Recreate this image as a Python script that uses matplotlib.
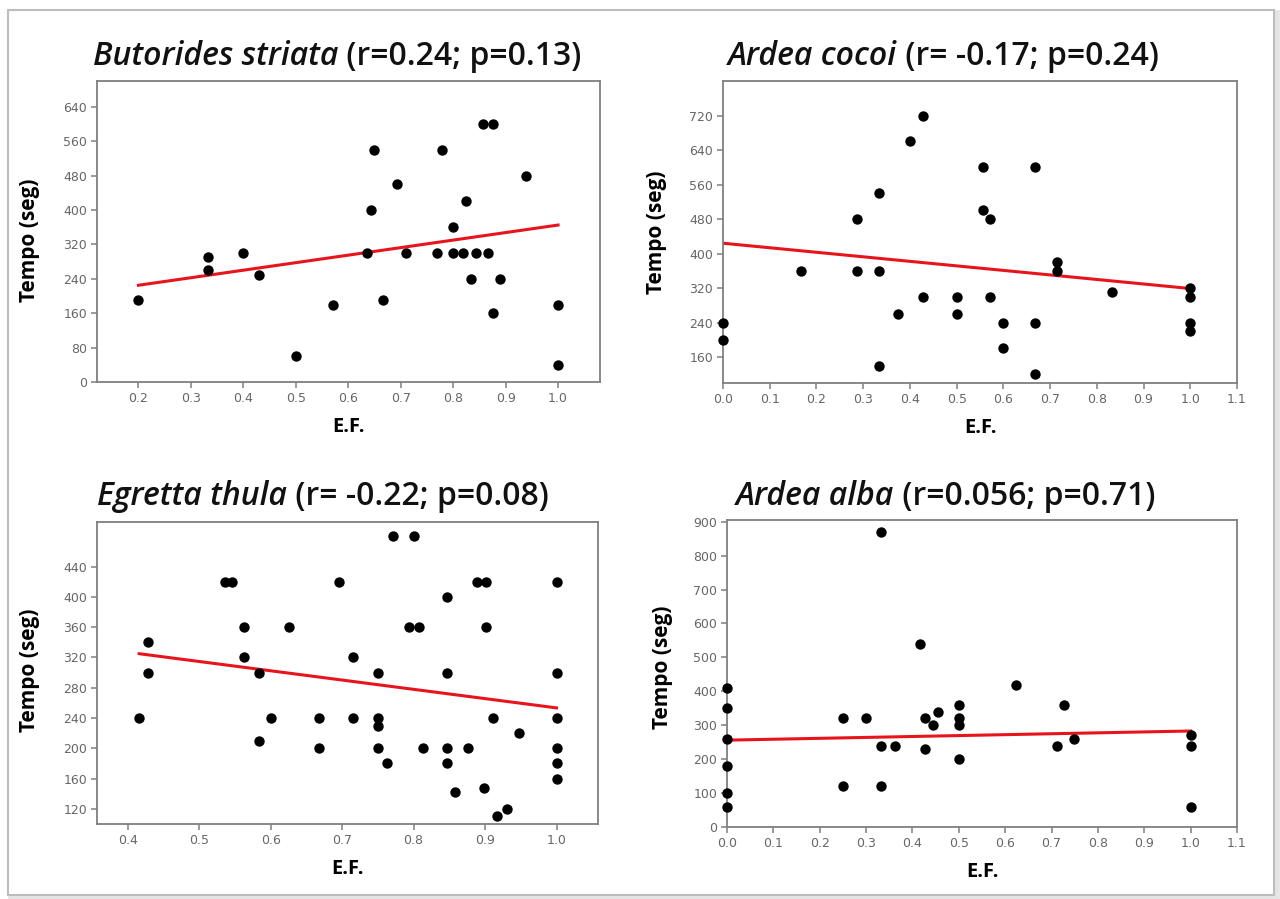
import matplotlib
matplotlib.use("Agg")
import matplotlib.pyplot as plt
from matplotlib.patches import Rectangle
import numpy as np

# ---- data ----
# Butorides striata
bs_x = [0.2, 0.333, 0.333, 0.4, 0.429, 0.5, 0.571, 0.636, 0.643, 0.65, 0.667,
        0.693, 0.71, 0.77, 0.778, 0.8, 0.8, 0.819, 0.825, 0.834, 0.843, 0.857,
        0.867, 0.876, 0.876, 0.89, 0.938, 1.0, 1.0]
bs_y = [190, 290, 260, 300, 250, 60, 180, 300, 400, 540, 190,
        460, 300, 300, 540, 360, 300, 300, 420, 240, 300, 600,
        300, 600, 160, 240, 480, 180, 40]
bs_fit = (190, 175)  # intercept, slope

# Ardea cocoi
ac_x = [0.0, 0.0, 0.167, 0.286, 0.286, 0.333, 0.333, 0.333, 0.375, 0.4, 0.429,
        0.429, 0.5, 0.5, 0.556, 0.556, 0.571, 0.571, 0.6, 0.6, 0.667, 0.667,
        0.667, 0.714, 0.714, 0.833, 1.0, 1.0, 1.0, 1.0]
ac_y = [240, 200, 360, 480, 360, 540, 360, 140, 260, 660, 720,
        300, 300, 260, 600, 500, 480, 300, 240, 180, 600, 240,
        120, 380, 360, 310, 320, 300, 240, 220]
ac_fit = (424, -105)

# Egretta thula
et_x = [0.416, 0.429, 0.429, 0.536, 0.546, 0.563, 0.563, 0.583, 0.583, 0.6,
        0.625, 0.667, 0.667, 0.695, 0.715, 0.715, 0.75, 0.75, 0.75, 0.75,
        0.763, 0.771, 0.794, 0.8, 0.807, 0.813, 0.847, 0.847, 0.847, 0.847,
        0.858, 0.876, 0.888, 0.901, 0.901, 0.898, 0.911, 0.917, 0.93, 0.948,
        1.0, 1.0, 1.0, 1.0, 1.0, 1.0]
et_y = [240, 340, 300, 420, 420, 360, 320, 300, 210, 240,
        360, 240, 200, 420, 320, 240, 300, 240, 230, 200,
        180, 480, 360, 480, 360, 200, 400, 300, 200, 180,
        142, 200, 420, 420, 360, 148, 240, 110, 120, 220,
        420, 300, 240, 200, 180, 160]
et_fit = (376, -122.6)

# Ardea alba
aa_x = [0.0, 0.0, 0.0, 0.0, 0.0, 0.0, 0.25, 0.25, 0.3, 0.333, 0.333, 0.333,
        0.363, 0.417, 0.428, 0.428, 0.445, 0.455, 0.5, 0.5, 0.5, 0.5, 0.624,
        0.712, 0.726, 0.749, 1.0, 1.0, 1.0]
aa_y = [410, 350, 260, 180, 100, 60, 320, 120, 320, 870, 240, 120,
        240, 540, 320, 230, 300, 340, 360, 320, 300, 200, 420,
        240, 360, 260, 270, 240, 60]
aa_fit = (256, 27)

species = ["Butorides striata", "Ardea cocoi", "Egretta thula", "Ardea alba"]
stats = ["(r=0.24; p=0.13)", "(r= -0.17; p=0.24)", "(r= -0.22; p=0.08)",
         "(r=0.056; p=0.71)"]
xs = [bs_x, ac_x, et_x, aa_x]
ys = [bs_y, ac_y, et_y, aa_y]
fits = [bs_fit, ac_fit, et_fit, aa_fit]
xticks = [np.arange(0.2, 1.01, 0.1), np.arange(0.0, 1.11, 0.1),
          np.arange(0.4, 1.01, 0.1), np.arange(0.0, 1.11, 0.1)]
yticks = [np.arange(0, 641, 80), np.arange(160, 721, 80),
          np.arange(120, 441, 40), np.arange(0, 901, 100)]
xlims = [(0.121, 1.08), (0.0, 1.1), (0.357, 1.058), (0.0, 1.1)]
ylims = [(0, 700), (100, 800), (100, 499), (0, 905)]

# axes boxes in pixels: left, top, right, bottom
boxes = [(97, 81, 600, 382), (723, 81, 1237, 383),
         (97, 522, 598, 824), (727, 520, 1237, 827)]
ylab_x = [40, 667, 40, 673]
ylab_y = [0.47, 0.5, 0.51, 0.52]
title_x = [93, 728, 97, 736]
title_base = [65, 65, 505, 505]

W, H = 1280, 899
fig = plt.figure(figsize=(W / 100, H / 100), dpi=100)
fig.patch.set_facecolor("white")

# outer frame with a faint shadow
fig.patches.append(Rectangle((11 / W, 1 - 898 / H), 1266 / W, 885 / H,
                             transform=fig.transFigure, facecolor="none",
                             edgecolor="#e4e4e4", lw=4, zorder=-2))
fig.patches.append(Rectangle((8 / W, 1 - 895 / H), 1266 / W, 885 / H,
                             transform=fig.transFigure, facecolor="white",
                             edgecolor="#bdbdbd", lw=1.5, zorder=-1))

grey = "#7f7f7f"
title_font = "Open Sans"

for i in range(4):
    l, t, r, b = boxes[i]
    ax = fig.add_axes([l / W, 1 - b / H, (r - l) / W, (b - t) / H])
    ax.patch.set_alpha(0)
    x = np.array(xs[i])
    y = np.array(ys[i])
    ax.scatter(x, y, s=56, color="black", zorder=3, linewidths=0,
               clip_on=False)
    a, m = fits[i]
    lx = np.array([x.min(), x.max()])
    ax.plot(lx, a + m * lx, color="#e8141c", lw=2.2, zorder=2)

    ax.set_xlim(*xlims[i])
    ax.set_ylim(*ylims[i])
    ax.set_xticks(xticks[i])
    ax.set_xticklabels(["%.1f" % v for v in xticks[i]])
    ax.set_yticks(yticks[i])
    for s in ax.spines.values():
        s.set_color(grey)
        s.set_linewidth(1.3)
    ax.tick_params(direction="out", length=4, width=1.1, color=grey,
                   labelcolor="#666666", labelsize=9, pad=3)

    ax.set_xlabel("E.F.", fontsize=14.5, fontweight="bold", family=title_font)
    ax.xaxis.set_label_coords(0.5, -0.115)
    ax.set_ylabel("Tempo (seg)", fontsize=15, fontweight="bold",
                  family=title_font)
    ax.yaxis.set_label_coords((ylab_x[i] - l) / (r - l), ylab_y[i])

    # title: italic species name followed by the statistics in upright type
    t1 = fig.text(title_x[i] / W, 1 - title_base[i] / H, species[i],
                  fontsize=23, style="italic", weight="semibold",
                  family=title_font, va="baseline", ha="left",
                  color="#111111")
    ax.annotate(" " + stats[i], xy=(1, 0), xycoords=t1, va="bottom",
                ha="left", fontsize=23, weight="semibold",
                family=title_font, color="#111111", annotation_clip=False)

fig.savefig("out.png", dpi=100, facecolor="white")
